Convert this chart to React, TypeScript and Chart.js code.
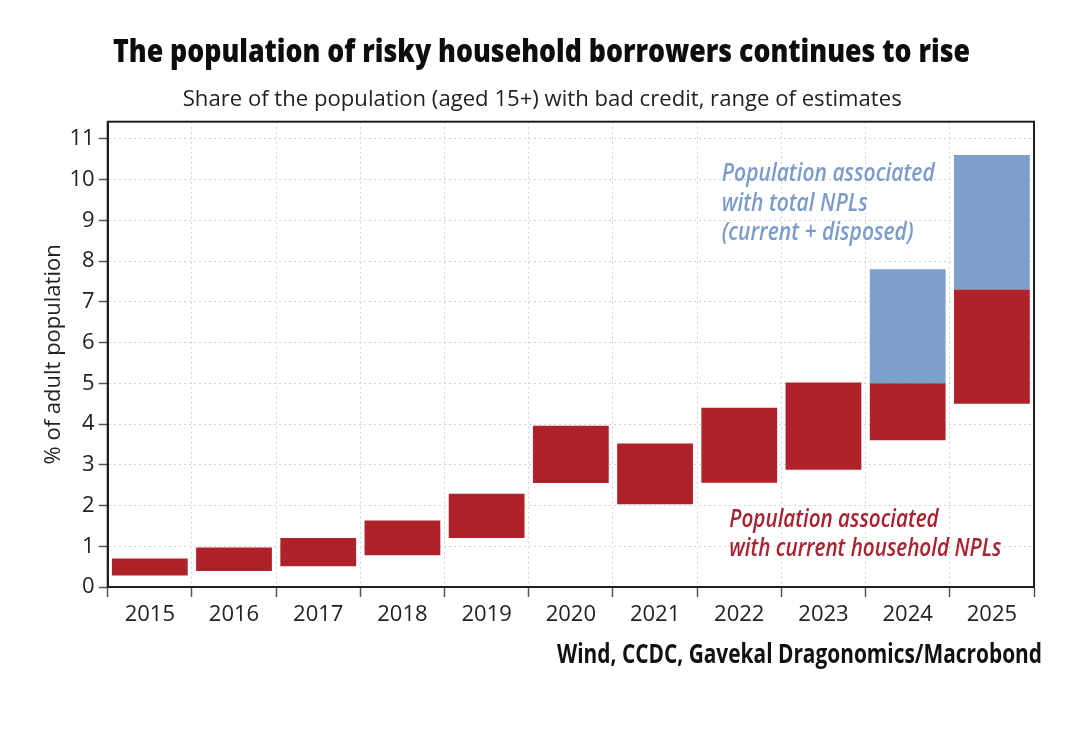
import React, { useEffect, useRef } from 'react';
import { Chart, registerables } from 'chart.js';

Chart.register(...registerables);

// ---- Data ----
const years = ['2015', '2016', '2017', '2018', '2019', '2020', '2021', '2022', '2023', '2024', '2025'];
const currentLow = [0.28, 0.39, 0.51, 0.78, 1.2, 2.55, 2.03, 2.56, 2.88, 3.6, 4.5];
const currentHigh = [0.7, 0.97, 1.2, 1.63, 2.29, 3.96, 3.52, 4.4, 5.02, 5.0, 7.3];
const totalLow = [null, null, null, null, null, null, null, null, null, 5.0, 7.3];
const totalHigh = [null, null, null, null, null, null, null, null, null, 7.8, 10.6];
const yTickValues = [0, 1, 2, 3, 4, 5, 6, 7, 8, 9, 10, 11];

const TITLE = 'The population of risky household borrowers continues to rise';
const SUBTITLE = 'Share of the population (aged 15+) with bad credit, range of estimates';
const Y_TITLE = '% of adult population';
const SOURCE = 'Wind, CCDC, Gavekal Dragonomics/Macrobond';
const BLUE_NOTE = ['Population associated', 'with total NPLs', '(current + disposed)'];
const RED_NOTE = ['Population associated', 'with current household NPLs'];

const RED = '#B0222A';
const BLUE = '#7CA0CB';
const RED_TEXT = '#A82230';
const BLUE_TEXT = '#7B9CC8';
const FONT = '"Open Sans", "DejaVu Sans", sans-serif';

function drawFitted(
  ctx: CanvasRenderingContext2D,
  lines: string[],
  x: number,
  baselines: number[],
  refIndex: number,
  targetWidth: number,
  font: string,
  color: string
) {
  ctx.save();
  ctx.font = font;
  ctx.fillStyle = color;
  ctx.textAlign = 'left';
  ctx.textBaseline = 'alphabetic';
  const w = ctx.measureText(lines[refIndex]).width;
  const sx = targetWidth / w;
  lines.forEach((line, i) => {
    ctx.save();
    ctx.translate(x, baselines[i]);
    ctx.scale(sx, 1);
    ctx.fillText(line, 0, 0);
    ctx.restore();
  });
  ctx.restore();
}

const decorPlugin = {
  id: 'decor',
  afterDatasetsDraw(chart: any) {
    const { ctx, chartArea } = chart;
    ctx.save();
    ctx.strokeStyle = '#1f1f1f';
    ctx.lineWidth = 2;
    ctx.strokeRect(chartArea.left, chartArea.top, chartArea.right - chartArea.left, chartArea.bottom - chartArea.top);
    ctx.restore();
  },
  afterDraw(chart: any) {
    const { ctx } = chart;
    drawFitted(ctx, [TITLE], 113, [62], 0, 857, `800 31px ${FONT}`, '#0d0d0d');
    drawFitted(ctx, [SUBTITLE], 182.7, [106], 0, 719, `22px ${FONT}`, '#222222');
    drawFitted(ctx, [SOURCE], 557, [663], 0, 485, `bold 26px ${FONT}`, '#111111');
    drawFitted(ctx, BLUE_NOTE, 721.7, [181, 210.5, 240], 0, 213, `italic 600 25px ${FONT}`, BLUE_TEXT);
    drawFitted(ctx, RED_NOTE, 729.3, [526.5, 555.5], 1, 272, `italic 600 25px ${FONT}`, RED_TEXT);
  },
};

export default function App() {
  const canvasRef = useRef<HTMLCanvasElement | null>(null);

  useEffect(() => {
    const canvas = canvasRef.current;
    if (!canvas) return;
    const chart = new Chart(canvas, {
      type: 'bar',
      data: {
        labels: years,
        datasets: [
          {
            label: 'Current household NPLs',
            data: years.map((_, i) => [currentLow[i], currentHigh[i]]) as any,
            backgroundColor: RED,
            borderWidth: 0,
            grouped: false,
            barPercentage: 0.9,
            categoryPercentage: 1.0,
          },
          {
            label: 'Total NPLs (current + disposed)',
            data: years.map((_, i) =>
              totalLow[i] === null || totalHigh[i] === null ? null : [totalLow[i], totalHigh[i]]
            ) as any,
            backgroundColor: BLUE,
            borderWidth: 0,
            grouped: false,
            barPercentage: 0.9,
            categoryPercentage: 1.0,
          },
        ],
      },
      options: {
        responsive: true,
        maintainAspectRatio: false,
        animation: false,
        layout: { padding: { top: 121.7, right: 46, bottom: 101, left: 0 } },
        plugins: {
          legend: { display: false },
          title: { display: false },
          tooltip: { enabled: false },
        },
        scales: {
          x: {
            offset: true,
            grid: {
              offset: true,
              color: '#d2d2d2',
              lineWidth: 1,
              drawTicks: true,
              tickLength: 10,
              tickColor: '#555555',
              tickWidth: 1.5,
              tickBorderDash: [],
            },
            border: { display: true, color: '#1f1f1f', width: 2, dash: [2, 3] },
            ticks: {
              color: '#222222',
              font: { family: FONT, size: 22 },
              padding: 5,
              maxRotation: 0,
              autoSkip: false,
            },
            afterFit: (scale: any) => {
              scale.height = 50;
            },
          },
          y: {
            min: 0,
            max: 11.42,
            grid: {
              color: '#d2d2d2',
              lineWidth: 1,
              drawTicks: true,
              tickLength: 9,
              tickColor: '#555555',
              tickWidth: 1.5,
              tickBorderDash: [],
            },
            border: { display: true, color: '#1f1f1f', width: 2, dash: [2, 3] },
            afterBuildTicks: (scale: any) => {
              scale.ticks = yTickValues.map((v) => ({ value: v }));
            },
            ticks: {
              color: '#222222',
              font: { family: FONT, size: 22 },
              padding: 4,
            },
            title: {
              display: true,
              text: Y_TITLE,
              color: '#222222',
              font: { family: FONT, size: 22 },
              padding: { top: 41, bottom: 0 },
            },
            afterFit: (scale: any) => {
              scale.width = 107.7;
            },
          },
        },
      },
      plugins: [decorPlugin],
    });
    return () => chart.destroy();
  }, []);

  return (
    <div style={{ position: 'absolute', left: 0, top: 0, width: 1080, height: 738, background: '#ffffff' }}>
      <canvas ref={canvasRef} style={{ width: '100%', height: '100%' }} />
    </div>
  );
}
